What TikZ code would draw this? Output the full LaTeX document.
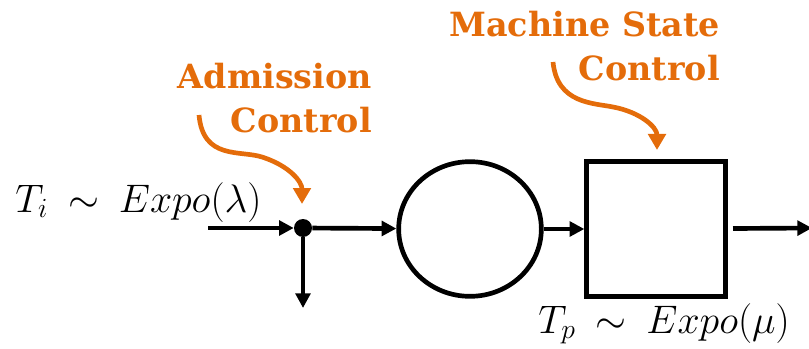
\documentclass[tikz,border=0pt]{standalone}
\usepackage{graphicx}
\usepackage{fontspec}
\newfontfamily\lblfont{DejaVu Serif}
\usetikzlibrary{arrows.meta,shapes.geometric}
\definecolor{accent}{RGB}{228,108,10}
\tikzset{
  flow/.style={line width=3.5pt,-{Triangle[length=11pt,width=11pt]}},
  ctrl/.style={accent,line width=3.5pt,-{Triangle[length=12pt,width=13pt]}},
  ctrltext/.style={accent,align=right,font=\lblfont\bfseries\fontsize{25}{33}\selectfont,inner sep=0pt},
  mathtext/.style={font=\fontsize{24}{28}\selectfont,inner sep=0pt},
}
\begin{document}
\begin{tikzpicture}[x=0.75pt,y=-0.75pt]
\useasboundingbox (0,0) rectangle (809,349);
\node[circle,fill,inner sep=0pt,minimum size=13.5pt] (dot) at (303,228) {};
\node[draw,line width=3.5pt,ellipse,minimum width=107pt,minimum height=101pt] (queue) at (470,229) {};
\node[draw,line width=3.5pt,rectangle,minimum width=104pt,minimum height=101pt] (server) at (656,229) {};
\coordinate (in) at (208,228);
\coordinate (drop) at (303,308);
\coordinate (out) at (812,228);
\draw[flow] (in) -- (dot);
\draw[flow] (dot) -- (drop);
\draw[flow] (dot) -- (queue);
\draw[flow] (queue) -- (server);
\draw[flow,shorten <=4pt] (server) -- (out);
\node[mathtext,anchor=base west] (ti) at (15,212) {\scalebox{1.2}{$T_i \:\sim\: Expo(\lambda)$}};
\node[mathtext,anchor=base east] (tp) at (790,333) {\scalebox{1.2}{$T_p \:\sim\: Expo(\mu)$}};
\node[ctrltext,anchor=north east] (adm) at (372,63) {Admission\\Control};
\node[ctrltext,anchor=north east] (msc) at (720,11) {Machine State\\Control};
\coordinate (admtail) at (199,115);
\coordinate (msctail) at (553,62);
\draw[ctrl] (admtail) .. controls (203,160) and (240,150) .. (262,157) .. controls (290,166) and (302,182) .. (302,204);
\draw[ctrl] (msctail) .. controls (557,104) and (594,103) .. (613,107) .. controls (640,112) and (657,127) .. (657,150);
\end{tikzpicture}
\end{document}
